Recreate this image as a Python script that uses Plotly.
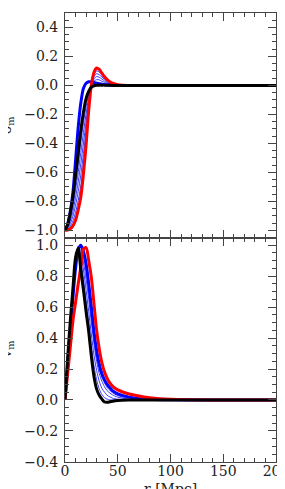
import plotly.graph_objects as go

# radius grid [Mpc]
r = [0, 2.5, 5, 7.5, 10, 12.5, 15, 17.5, 20, 22.5, 25, 27.5, 30, 32.5, 35,
     37.5, 40, 42.5, 45, 50, 60, 70, 80, 100, 150, 200]

# ---- delta_m (top panel) ----
delta_black = [-1.0, -0.96, -0.88, -0.77, -0.62, -0.47, -0.31, -0.185, -0.09, -0.04, -0.012,
               -0.002, 0.001, 0.002, 0.002, 0.002, 0.001, 0.0005, 0, 0, 0, 0, 0, 0, 0, 0]
delta_red = [-1.0, -0.998, -0.99, -0.97, -0.93, -0.86, -0.77, -0.61, -0.41, -0.17, 0.005,
             0.09, 0.12, 0.11, 0.085, 0.06, 0.04, 0.025, 0.015, 0.005, 0, 0, 0, 0, 0, 0]
delta_blue = [-1.0, -0.96, -0.87, -0.74, -0.52, -0.29, -0.12, -0.02, 0.015, 0.025, 0.025,
              0.02, 0.015, 0.01, 0.007, 0.005, 0.003, 0.002, 0.001, 0, 0, 0, 0, 0, 0, 0]
delta_thin = [
    [-1.0, -0.966, -0.899, -0.804, -0.673, -0.536, -0.388, -0.257, -0.144, -0.062, -0.009,
     0.014, 0.021, 0.020, 0.016, 0.012, 0.008, 0.005, 0.003, 0.001, 0, 0, 0, 0, 0, 0],
    [-1.0, -0.973, -0.916, -0.836, -0.722, -0.599, -0.462, -0.325, -0.196, -0.083, -0.006,
     0.028, 0.040, 0.038, 0.029, 0.021, 0.014, 0.009, 0.005, 0.002, 0, 0, 0, 0, 0, 0],
    [-1.0, -0.979, -0.935, -0.870, -0.775, -0.665, -0.540, -0.398, -0.250, -0.105, -0.004,
     0.044, 0.061, 0.056, 0.044, 0.031, 0.020, 0.013, 0.008, 0.003, 0, 0, 0, 0, 0, 0],
    [-1.0, -0.985, -0.954, -0.904, -0.828, -0.731, -0.618, -0.470, -0.304, -0.127, -0.001,
     0.060, 0.081, 0.074, 0.058, 0.041, 0.027, 0.017, 0.010, 0.003, 0, 0, 0, 0, 0, 0],
    [-1.0, -0.992, -0.971, -0.936, -0.877, -0.794, -0.692, -0.538, -0.356, -0.148, 0.002,
     0.074, 0.100, 0.092, 0.071, 0.050, 0.033, 0.021, 0.012, 0.004, 0, 0, 0, 0, 0, 0],
]

# ---- v_m (bottom panel) ----
v_black = [0, 0.27, 0.51, 0.72, 0.92, 0.98, 0.84, 0.71, 0.57, 0.44, 0.28, 0.15, 0.07,
           0.03, 0.005, -0.013, -0.015, -0.012, -0.008, -0.003, 0, 0, 0, 0, 0, 0]
v_red = [0, 0.17, 0.34, 0.51, 0.63, 0.75, 0.86, 0.975, 0.985, 0.90, 0.79, 0.62, 0.45, 0.33,
         0.24, 0.18, 0.14, 0.11, 0.09, 0.065, 0.04, 0.025, 0.015, 0.005, 0, 0]
v_blue = [0, 0.23, 0.45, 0.66, 0.85, 0.97, 1.0, 0.96, 0.88, 0.75, 0.60, 0.44, 0.32, 0.23,
          0.17, 0.13, 0.10, 0.08, 0.06, 0.04, 0.02, 0.01, 0.005, 0.001, 0, 0]
v_thin = [
    [0, 0.26, 0.50, 0.71, 0.90, 0.995, 0.90, 0.78, 0.64, 0.50, 0.35, 0.22, 0.13, 0.07,
     0.035, 0.015, 0.005, 0, 0, 0, 0, 0, 0, 0, 0, 0],
    [0, 0.25, 0.48, 0.69, 0.88, 0.99, 0.94, 0.84, 0.71, 0.57, 0.42, 0.29, 0.19, 0.12,
     0.075, 0.05, 0.03, 0.02, 0.012, 0.005, 0.001, 0, 0, 0, 0, 0],
    [0, 0.24, 0.47, 0.68, 0.87, 0.98, 0.97, 0.89, 0.78, 0.65, 0.50, 0.36, 0.25, 0.17,
     0.12, 0.085, 0.06, 0.045, 0.033, 0.018, 0.006, 0.002, 0, 0, 0, 0],
    [0, 0.235, 0.46, 0.67, 0.86, 0.975, 0.99, 0.93, 0.83, 0.70, 0.55, 0.40, 0.29, 0.20,
     0.145, 0.11, 0.08, 0.062, 0.047, 0.028, 0.012, 0.005, 0.002, 0, 0, 0],
]

fig = go.Figure()


def add(y, color, width, xa, ya):
    fig.add_trace(go.Scatter(x=r, y=y, mode="lines", xaxis=xa, yaxis=ya,
                             line=dict(color=color, width=width, shape="spline", smoothing=0.8),
                             showlegend=False, hoverinfo="skip"))


for xa, ya, thin, blue, red, black in [
    ("x", "y", delta_thin, delta_blue, delta_red, delta_black),
    ("x2", "y2", v_thin, v_blue, v_red, v_black),
]:
    for t in thin:
        add(t, "#3a3aff", 1, xa, ya)
    add(blue, "#0000ff", 3, xa, ya)
    add(red, "#ff0000", 3, xa, ya)
    add(black, "#000000", 3, xa, ya)

axcol = "#444444"
tickfont = dict(family="DejaVu Serif", size=14, color="#222222")
common = dict(showline=True, linecolor=axcol, linewidth=1, mirror="ticks",
              ticks="inside", ticklen=8, tickwidth=1, tickcolor=axcol,
              showgrid=False, zeroline=False, tickfont=tickfont,
              ticklabeloverflow="allow")

fig.update_layout(
    width=285, height=489,
    margin=dict(l=57, r=12, t=4, b=35),
    paper_bgcolor="white", plot_bgcolor="white",
    xaxis=dict(common, domain=[0, 1], anchor="y", range=[0, 200], dtick=50, tick0=0,
               showticklabels=False,
               minor=dict(ticks="inside", ticklen=4, dtick=10, tickcolor=axcol)),
    yaxis=dict(common, domain=[0.5, 1], anchor="x", range=[-1.05, 0.5], dtick=0.2, tick0=0,
               tickformat=".1f", ticklabelstandoff=3,
               minor=dict(ticks="inside", ticklen=4, dtick=0.05, tickcolor=axcol)),
    xaxis2=dict(common, domain=[0, 1], anchor="y2", range=[0, 200], dtick=50, tick0=0,
                ticklabelstandoff=-4,
                minor=dict(ticks="inside", ticklen=4, dtick=10, tickcolor=axcol)),
    yaxis2=dict(common, domain=[0, 0.5], anchor="x2", range=[-0.401, 1.05], dtick=0.2, tick0=0,
                tickformat=".1f", ticklabelstandoff=3,
                minor=dict(ticks="inside", ticklen=4, dtick=0.05, tickcolor=axcol)),
    annotations=[
        dict(text="δ<sub>m</sub>", xref="paper", yref="paper", x=0, y=0.75,
             xanchor="center", yanchor="middle", xshift=-58, textangle=-90,
             showarrow=False, font=dict(family="DejaVu Serif", size=14, color="#222222")),
        dict(text="v<sub>m</sub>", xref="paper", yref="paper", x=0, y=0.25,
             xanchor="center", yanchor="middle", xshift=-58, textangle=-90,
             showarrow=False, font=dict(family="DejaVu Serif", size=14, color="#222222")),
        dict(text="r [Mpc]", xref="paper", yref="paper", x=0.5, y=0,
             xanchor="center", yanchor="top", yshift=-17,
             showarrow=False, font=dict(family="DejaVu Serif", size=14, color="#222222")),
    ],
)

fig.write_html("out.html")
